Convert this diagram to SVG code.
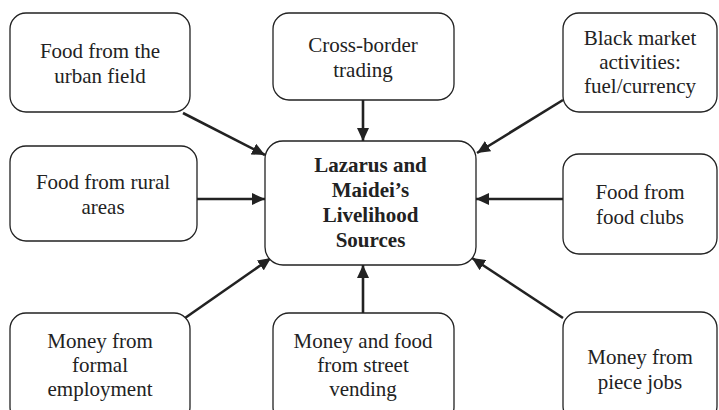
<svg xmlns="http://www.w3.org/2000/svg" width="719" height="410" viewBox="0 0 719 410">
<style>
.box{fill:#fff;stroke:#222;stroke-width:1.3}
.t{font-family:"Liberation Serif","Times New Roman",serif;font-size:21px;fill:#222;text-anchor:middle}
.b{font-weight:bold}
.c{stroke:#222;stroke-width:2.6;fill:none;marker-end:url(#ah)}
</style>
<defs>
<marker id="ah" markerUnits="userSpaceOnUse" markerWidth="14" markerHeight="12" refX="13" refY="6" orient="auto">
<path d="M0,0 L13,6 L0,12 z" fill="#222"/>
</marker>
</defs>
<g id="connectors">
<line class="c" x1="183" y1="113" x2="265" y2="155"/>
<line class="c" x1="363" y1="100" x2="363" y2="141"/>
<line class="c" x1="563" y1="100" x2="477" y2="153"/>
<line class="c" x1="197" y1="199" x2="265" y2="199"/>
<line class="c" x1="563" y1="199" x2="476" y2="199"/>
<line class="c" x1="185" y1="318" x2="271" y2="258"/>
<line class="c" x1="363" y1="313" x2="363" y2="265"/>
<line class="c" x1="563" y1="318" x2="472" y2="258"/>
</g>
<g id="center">
<rect class="box" x="265" y="141" width="211" height="124" rx="18"/>
<text class="t b" x="370.5" y="172">Lazarus and</text>
<text class="t b" x="370.5" y="197">Maidei’s</text>
<text class="t b" x="370.5" y="222">Livelihood</text>
<text class="t b" x="370.5" y="247">Sources</text>
</g>
<g id="urban">
<rect class="box" x="10" y="13" width="180" height="99" rx="16"/>
<text class="t" x="100" y="58">Food from the</text>
<text class="t" x="100" y="83">urban field</text>
</g>
<g id="crossborder">
<rect class="box" x="273" y="13" width="181" height="87" rx="16"/>
<text class="t" x="363" y="52">Cross-border</text>
<text class="t" x="363" y="77">trading</text>
</g>
<g id="blackmarket">
<rect class="box" x="563" y="13" width="154" height="99" rx="16"/>
<text class="t" x="640" y="45">Black market</text>
<text class="t" x="640" y="69">activities:</text>
<text class="t" x="640" y="93">fuel/currency</text>
</g>
<g id="rural">
<rect class="box" x="10" y="146" width="187" height="95" rx="16"/>
<text class="t" x="103" y="189">Food from rural</text>
<text class="t" x="103" y="214">areas</text>
</g>
<g id="foodclubs">
<rect class="box" x="563" y="154" width="154" height="100" rx="16"/>
<text class="t" x="640" y="199">Food from</text>
<text class="t" x="640" y="224">food clubs</text>
</g>
<g id="formal">
<rect class="box" x="10" y="313" width="180" height="110" rx="16"/>
<text class="t" x="100" y="348">Money from</text>
<text class="t" x="100" y="372">formal</text>
<text class="t" x="100" y="396">employment</text>
</g>
<g id="street">
<rect class="box" x="273" y="313" width="181" height="110" rx="16"/>
<text class="t" x="363" y="348">Money and food</text>
<text class="t" x="363" y="372">from street</text>
<text class="t" x="363" y="396">vending</text>
</g>
<g id="piecejobs">
<rect class="box" x="563" y="312" width="154" height="110" rx="16"/>
<text class="t" x="640" y="364">Money from</text>
<text class="t" x="640" y="389">piece jobs</text>
</g>
</svg>
